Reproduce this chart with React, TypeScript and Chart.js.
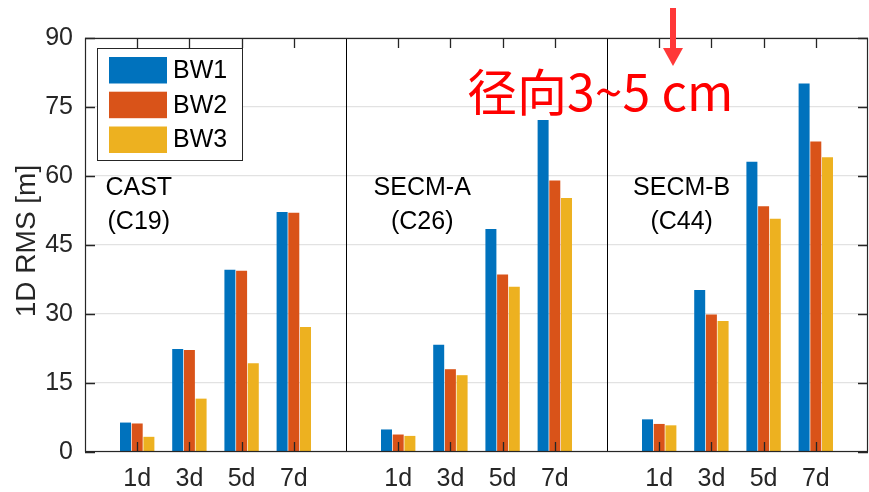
import React, { useEffect, useRef } from 'react';
import { Chart, registerables } from 'chart.js';

Chart.register(...registerables);

// ---- data ----
const categories = ['', '1d', '3d', '5d', '7d', '', '1d', '3d', '5d', '7d', '', '1d', '3d', '5d', '7d', ''];
const bw1 = [0, 6.4, 22.4, 39.6, 52.2, 0, 4.9, 23.3, 48.5, 72.2, 0, 7.1, 35.2, 63.1, 80.1, 0];
const bw2 = [0, 6.2, 22.2, 39.4, 52.0, 0, 3.8, 18.0, 38.6, 59.0, 0, 6.1, 29.9, 53.4, 67.5, 0];
const bw3 = [0, 3.3, 11.6, 19.3, 27.2, 0, 3.5, 16.7, 35.9, 55.2, 0, 5.8, 28.5, 50.7, 64.1, 0];
const seriesNames = ['BW1', 'BW2', 'BW3'];
const seriesColors = ['#0072BD', '#D95319', '#EDB120'];
const yTickValues = [0, 15, 30, 45, 60, 75, 90];
const panelNames = [['CAST', '(C19)'], ['SECM-A', '(C26)'], ['SECM-B', '(C44)']];
const dividerIndices = [5, 10];
const annotationText = '径向3~5 cm';
const yTitle = '1D RMS [m]';

const AX = '#262626';
const FONT = '"Liberation Sans", Arial, Helvetica, sans-serif';

const overlayPlugin = {
  id: 'overlay',
  afterDatasetsDraw(chart: any) {
    const { ctx, chartArea: a, scales } = chart;
    const xs = scales.x;
    const ys = scales.y;
    ctx.save();
    // divider lines
    ctx.strokeStyle = '#000000';
    ctx.lineWidth = 1;
    dividerIndices.forEach((i) => {
      const px = Math.round(xs.getPixelForValue(i)) + 0.5;
      ctx.beginPath();
      ctx.moveTo(px, a.top);
      ctx.lineTo(px, a.bottom);
      ctx.stroke();
    });
    // frame
    ctx.strokeStyle = AX;
    ctx.lineWidth = 1.2;
    ctx.strokeRect(a.left + 0.5, a.top + 0.5, a.right - a.left - 1, a.bottom - a.top - 1);
    // x ticks (inward, top and bottom)
    ctx.lineWidth = 1.3;
    categories.forEach((c, i) => {
      if (!c) return;
      const px = Math.round(xs.getPixelForValue(i)) + 0.5;
      ctx.beginPath();
      ctx.moveTo(px, a.bottom);
      ctx.lineTo(px, a.bottom - 10);
      ctx.moveTo(px, a.top);
      ctx.lineTo(px, a.top + 10);
      ctx.stroke();
    });
    // y ticks (inward, left and right)
    yTickValues.forEach((v) => {
      const py = Math.round(ys.getPixelForValue(v)) + 0.5;
      ctx.beginPath();
      ctx.moveTo(a.left, py);
      ctx.lineTo(a.left + 10, py);
      ctx.moveTo(a.right, py);
      ctx.lineTo(a.right - 10, py);
      ctx.stroke();
    });

    // legend
    const lx = 97, ly = 48, lw = 145, lh = 112;
    ctx.fillStyle = '#ffffff';
    ctx.fillRect(lx, ly, lw, lh);
    ctx.strokeStyle = AX;
    ctx.lineWidth = 1;
    ctx.strokeRect(lx + 0.5, ly + 0.5, lw, lh);
    const rowCenters = [70, 104.7, 139.5];
    chart.data.datasets.forEach((ds: any, i: number) => {
      const cy = rowCenters[i];
      ctx.fillStyle = ds.backgroundColor;
      ctx.fillRect(109, cy - 13, 58, 26.5);
      ctx.fillStyle = '#000000';
      ctx.font = `25px ${FONT}`;
      ctx.textAlign = 'left';
      ctx.textBaseline = 'middle';
      ctx.fillText(ds.label, 173, cy + 1);
    });

    // panel labels
    const panelCenters = [1.03, 6.46, 11.43];
    ctx.fillStyle = '#000000';
    ctx.font = `25px ${FONT}`;
    ctx.textAlign = 'center';
    ctx.textBaseline = 'middle';
    panelNames.forEach((lines, i) => {
      const px = xs.getPixelForValue(panelCenters[i]);
      ctx.fillText(lines[0], px, 188);
      ctx.fillText(lines[1], px, 222);
    });

    // y title
    ctx.save();
    ctx.translate(27, 241);
    ctx.rotate(-Math.PI / 2);
    ctx.fillStyle = AX;
    ctx.font = `28px ${FONT}`;
    ctx.textAlign = 'center';
    ctx.textBaseline = 'middle';
    ctx.fillText(yTitle, 0, 0);
    ctx.restore();

    // red annotation
    ctx.fillStyle = '#FF0000';
    ctx.font = `50px "Noto Sans CJK SC", sans-serif`;
    ctx.textAlign = 'left';
    ctx.textBaseline = 'alphabetic';
    ctx.fillText(annotationText, 467, 111);

    // arrow
    ctx.strokeStyle = '#FF3838';
    ctx.fillStyle = '#FF3838';
    ctx.lineWidth = 6;
    ctx.beginPath();
    ctx.moveTo(673, 8);
    ctx.lineTo(673, 50);
    ctx.stroke();
    ctx.beginPath();
    ctx.moveTo(663, 48);
    ctx.lineTo(683, 48);
    ctx.lineTo(673, 66);
    ctx.closePath();
    ctx.fill();

    ctx.restore();
  },
};

export default function App() {
  const ref = useRef<HTMLCanvasElement | null>(null);
  useEffect(() => {
    if (!ref.current) return;
    const series = [bw1, bw2, bw3];
    const chart = new Chart(ref.current, {
      type: 'bar',
      data: {
        labels: categories,
        datasets: series.map((d, i) => ({
          label: seriesNames[i],
          data: d,
          backgroundColor: seriesColors[i],
          borderWidth: 0,
          categoryPercentage: 0.672,
          barPercentage: 0.94,
        })),
      },
      options: {
        responsive: false,
        animation: false,
        events: [],
        layout: { padding: { top: 38, right: 1, left: 0, bottom: 0 } },
        plugins: { legend: { display: false }, tooltip: { enabled: false } },
        scales: {
          x: {
            type: 'category',
            offset: false,
            grid: { display: false, drawTicks: false },
            border: { display: false },
            ticks: {
              autoSkip: false,
              maxRotation: 0,
              color: AX,
              font: { family: FONT, size: 25 },
              padding: 12,
            },
            afterFit: (s: any) => {
              s.height = 40;
              s.paddingLeft = 0;
              s.paddingRight = 0;
            },
          },
          y: {
            min: 0,
            max: 90,
            afterBuildTicks: (s: any) => { s.ticks = yTickValues.map((v) => ({ value: v })); },
            grid: { color: '#e2e2e2', drawTicks: false, lineWidth: 1.2 },
            border: { display: false },
            ticks: {
              color: AX,
              font: { family: FONT, size: 25 },
              padding: 12,
            },
            afterFit: (s: any) => {
              s.width = 85;
              s.paddingTop = 0;
              s.paddingBottom = 0;
            },
          },
        },
      },
      plugins: [overlayPlugin],
    });
    return () => chart.destroy();
  }, []);
  return (
    <div style={{ position: 'fixed', left: 0, top: 0, width: 869, height: 492, background: '#fff' }}>
      <canvas ref={ref} width={869} height={492} style={{ width: 869, height: 492, display: 'block' }} />
    </div>
  );
}
